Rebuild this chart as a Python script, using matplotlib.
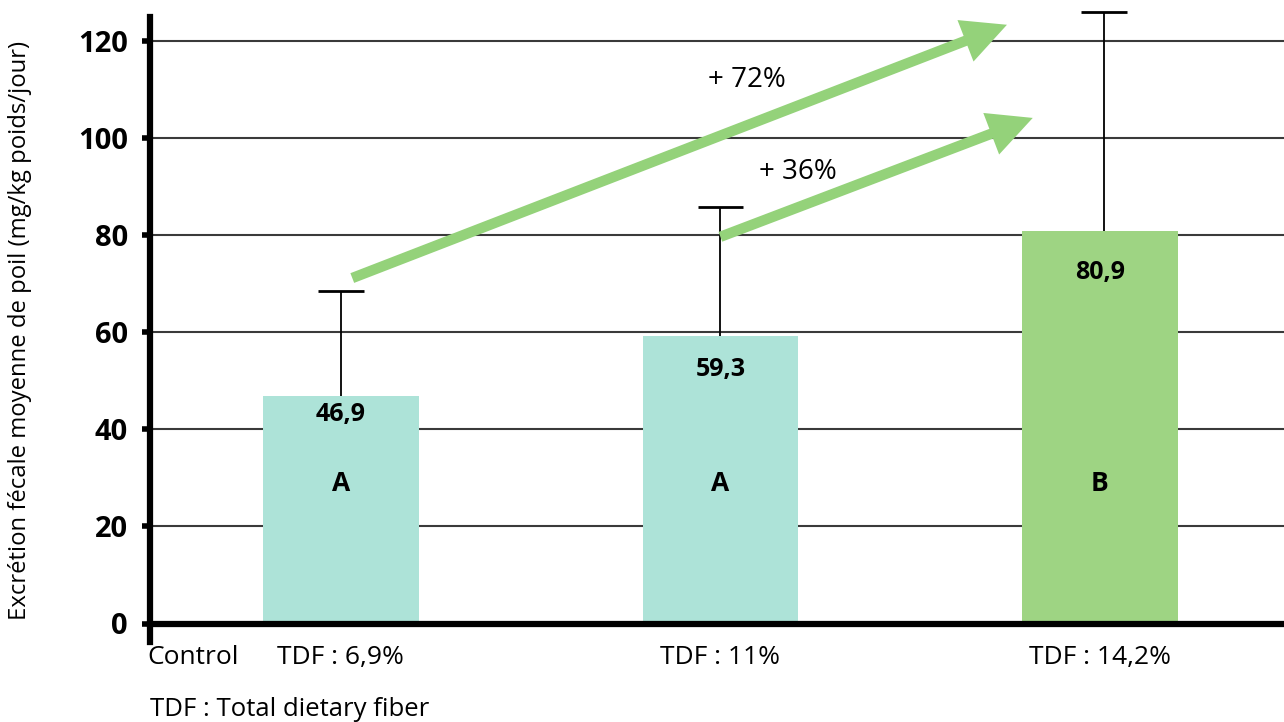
import numpy as np
import matplotlib.pyplot as plt

# values
groups = ['TDF : 6,9%', 'TDF : 11%', 'TDF : 14,2%']
means = [46.9, 59.3, 80.9]
err_up = [21.7, 26.6, 45.2]
letters = ['A', 'A', 'B']
bar_colors = ['#ade3d8', '#ade3d8', '#9ed483']
yticks = [0, 20, 40, 60, 80, 100, 120]

arrow_green = '#94d27a'

plt.rcParams['font.family'] = ['Open Sans', 'DejaVu Sans']

fig = plt.figure(figsize=(12.84, 7.22), dpi=100)
ax = fig.add_axes([150 / 1284, 1 - 623.5 / 722, 1 - 150 / 1284, (623.5 - 17) / 722])

x = np.arange(len(groups))
ax.set_xlim(-0.503, 2.485)
ax.set_ylim(0, 125)

for y in yticks[1:]:
    ax.axhline(y, color='#3a3a3a', lw=1.5, zorder=1)

ax.bar(x, means, width=0.41, color=bar_colors, zorder=2)

# upper error bars only
ex = x + np.array([0, 0, 0.01])
tops = np.array(means) + np.array(err_up)
ax.vlines(ex, means, tops, color='black', lw=1.3, zorder=3, clip_on=False)
ax.hlines(tops, ex - 0.06, ex + 0.06, color='black', lw=2, zorder=3, clip_on=False)

label_drop = [3.8, 7, 8.5]
for xi, m, l, d in zip(x, means, letters, label_drop):
    ax.text(xi, m - d, '{:.1f}'.format(m).replace('.', ','), ha='center', va='center',
            fontsize=18, fontweight='bold', zorder=4)
    ax.text(xi, 28.8, l, ha='center', va='center', fontsize=19, fontweight='bold', zorder=4)

# arrows showing increase vs TDF 14,2%
def arrow(x0, y0, x1, y1):
    ax.annotate('', xy=(x1, y1), xytext=(x0, y0),
                arrowprops=dict(arrowstyle='simple,head_length=3.2,head_width=3.2,tail_width=0.75',
                                color=arrow_green, lw=0, shrinkA=0, shrinkB=0),
                zorder=5, annotation_clip=False)

arrow(0.03, 71.2, 1.755, 123.4)
arrow(1.0, 79.7, 1.823, 104.2)
pct1 = round((means[2] / means[0] - 1) * 100)
pct2 = round((means[2] / means[1] - 1) * 100)
ax.text(1.07, 112, '+ {}%'.format(pct1), ha='center', va='center', fontsize=20)
ax.text(1.205, 93, '+ {}%'.format(pct2), ha='center', va='center', fontsize=20)

for s in ['top', 'right']:
    ax.spines[s].set_visible(False)
ax.spines['left'].set_linewidth(4.5)
ax.spines['bottom'].set_linewidth(4.5)
ax.spines['left'].set_bounds(-3.8, 125)

ax.set_yticks(yticks)
ax.set_yticklabels([str(v) for v in yticks], fontsize=21, fontweight='bold')
ax.tick_params(axis='y', length=6, width=4, pad=10)
ax.set_xticks([])

ax.set_ylabel('Excrétion fécale moyenne de poil (mg/kg poids/jour)', fontsize=17.2)
ax.yaxis.set_label_coords(-118 / (1284 - 150), 0.484)

for xi, g in zip(x, groups):
    ax.text(xi, -7, g, ha='center', va='center', fontsize=19, clip_on=False)
ax.text(-0.51, -7, 'Control', ha='left', va='center', fontsize=19, clip_on=False)
fig.text(150 / 1284, 1 - 709 / 722, 'TDF : Total dietary fiber', ha='left', va='center', fontsize=18.5)

fig.savefig('out.png', dpi=100)
